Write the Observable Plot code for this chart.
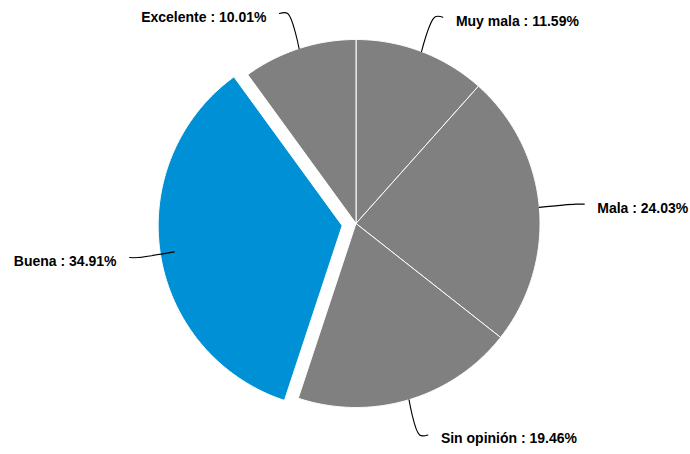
<!DOCTYPE html>
<html>
<head>
<meta charset="utf-8">
<script src="https://cdn.jsdelivr.net/npm/d3@7"></script>
<script src="https://cdn.jsdelivr.net/npm/@observablehq/plot@0.6"></script>
<style>
  html, body { margin: 0; padding: 0; background: #fff; }
  #chart svg { display: block; }
</style>
</head>
<body>
<div id="chart"></div>
<script>
const categories = ["Muy mala", "Mala", "Sin opinión", "Buena", "Excelente"];
const values = [11.59, 24.03, 19.46, 34.91, 10.01];
const colors = ["#808080", "#808080", "#808080", "#0090d5", "#808080"];
const explodedCategory = "Buena";

const W = 690, H = 454;
const explodeDist = 0.076;

let cum = 0;
const slices = [];
const leaders = [];
const labels = [];
categories.forEach((cat, i) => {
  const v = values[i];
  const a0 = cum / 100 * 2 * Math.PI;
  const a1 = (cum + v) / 100 * 2 * Math.PI;
  cum += v;
  const m = (a0 + a1) / 2;
  const off = cat === explodedCategory ? explodeDist : 0;
  const cx = off * Math.sin(m), cy = off * Math.cos(m);
  const pts = [{cat, x: cx, y: cy}];
  const n = Math.max(2, Math.ceil((a1 - a0) / (Math.PI / 360)));
  for (let k = 0; k <= n; k++) {
    const t = a0 + (a1 - a0) * k / n;
    pts.push({cat, x: cx + Math.sin(t), y: cy + Math.cos(t)});
  }
  pts.push({cat, x: cx, y: cy});
  slices.push({cat, color: colors[i], pts});
  const s = Math.sin(m) >= 0 ? 1 : -1;
  const p0 = {cat, x: Math.sin(m), y: Math.cos(m)};
  const p1 = {cat, x: 1.2 * Math.sin(m), y: 1.2 * Math.cos(m)};
  const p2 = {cat, x: p1.x + s * 0.045, y: p1.y};
  leaders.push(p0, p1, p2);
  labels.push({x: p2.x, y: p2.y, side: s, text: `${cat} : ${v.toFixed(2)}%`});
});

const marks = slices.map(sl =>
  Plot.line(sl.pts, {x: "x", y: "y", fill: sl.color, stroke: "#ffffff", strokeWidth: 1, strokeLinejoin: "round"})
);
marks.push(Plot.line(leaders, {x: "x", y: "y", z: "cat", stroke: "#000", strokeWidth: 1.1, curve: "catmull-rom"}));
marks.push(Plot.text(labels.filter(d => d.side > 0), {x: "x", y: "y", text: "text", textAnchor: "start", dx: 13, dy: 4, fontWeight: "bold", fontSize: 14, fill: "#000"}));
marks.push(Plot.text(labels.filter(d => d.side < 0), {x: "x", y: "y", text: "text", textAnchor: "end", dx: -13, dy: 4, fontWeight: "bold", fontSize: 14, fill: "#000"}));

const chart = Plot.plot({
  width: W,
  height: H,
  margin: 0,
  x: {domain: [-355.5 / 184, (W - 355.5) / 184], axis: null},
  y: {domain: [-(H - 223) / 184, 223 / 184], axis: null},
  style: {fontFamily: "'Liberation Sans', Arial, Helvetica, sans-serif", background: "#fff", overflow: "visible"},
  marks
});
document.getElementById("chart").appendChild(chart);
</script>
</body>
</html>
